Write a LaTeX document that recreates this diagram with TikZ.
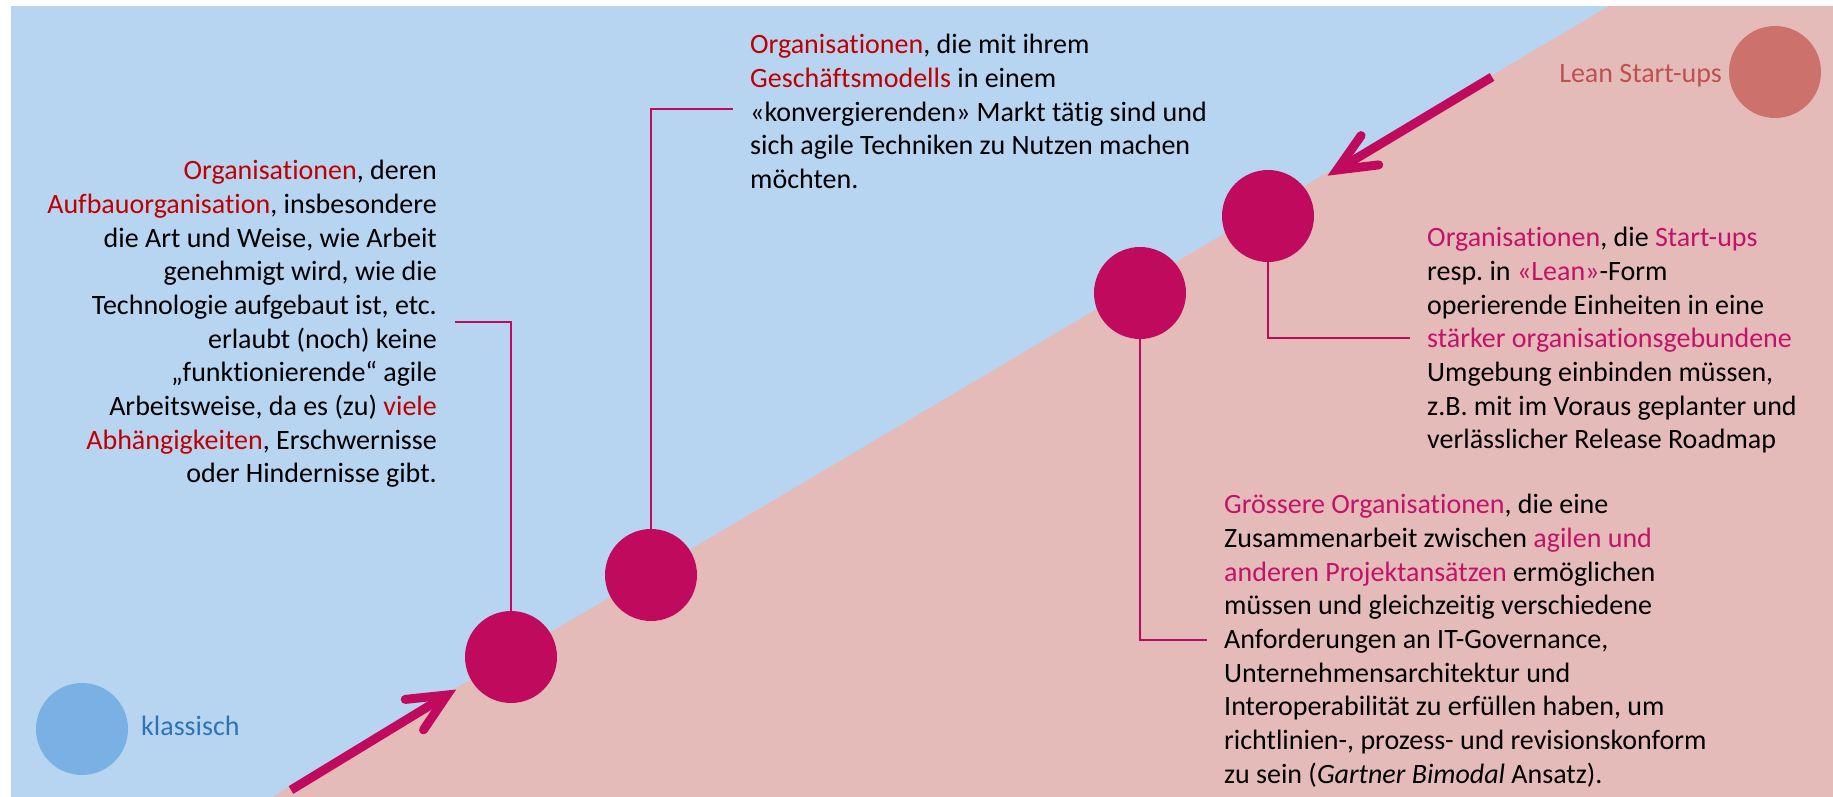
\documentclass[tikz,border=0pt]{standalone}
\usepackage{fontspec}
\setmainfont{Carlito}[Ligatures={NoCommon}]
\frenchspacing
\usetikzlibrary{calc}
\definecolor{bgblue}{RGB}{183,212,240}
\definecolor{bgpink}{RGB}{229,187,186}
\definecolor{mag}{RGB}{192,10,94}
\definecolor{magtext}{RGB}{196,18,104}
\definecolor{darkred}{RGB}{192,0,0}
\definecolor{lightblue}{RGB}{122,177,228}
\definecolor{blutext}{RGB}{46,116,181}
\definecolor{leancirc}{RGB}{204,113,108}
\definecolor{leantext}{RGB}{192,80,77}
\newcommand{\rd}[1]{\textcolor{darkred}{#1}}
\newcommand{\mg}[1]{\textcolor{magtext}{#1}}
\begin{document}
\begin{tikzpicture}[x=1pt,y=-1pt,
  dot/.style={circle,fill=mag,draw=none,minimum size=92pt,inner sep=0pt},
  legenddot/.style={circle,draw=none,minimum size=92pt,inner sep=0pt},
  txt/.style={font={\fontsize{28}{33.7}\selectfont},inner sep=0pt},
  leader/.style={draw=mag,line width=2pt},
  shaft/.style={draw=mag,line width=9pt,line cap=butt},
  barb/.style={draw=mag,line width=9pt,line cap=round,line join=miter,miter limit=10}
]
\useasboundingbox (0,0) rectangle (1833,797);
\fill[white] (0,0) rectangle (1833,797);
\fill[bgblue] (11,6) rectangle (1833,797);
\fill[bgpink] (272,797) -- (1609,6) -- (1833,6) -- (1833,797) -- cycle;

% legend
\node[legenddot,fill=lightblue] (klas) at (82,729) {};
\node[txt,anchor=west,text=blutext] (klastxt) at (141,726) {klassisch};
\node[legenddot,fill=leancirc] (lean) at (1775,72) {};
\node[txt,anchor=east,text=leantext] (leantxt) at (1722,76) {Lean Start-ups};

% dots
\node[dot] (c1) at (511,657) {};
\node[dot] (c2) at (651,575) {};
\node[dot] (c3) at (1140,293) {};
\node[dot] (c4) at (1268,216) {};

% texts
\node[txt,anchor=north east,align=right] (tA) at (437,160) {%
\rd{Organisationen}, deren\\
\rd{Aufbauorganisation}, insbesondere\\
die Art und Weise, wie Arbeit\\
genehmigt wird, wie die\\
Technologie aufgebaut ist, etc.\\
erlaubt (noch) keine\\
„funktionierende“ agile\\
Arbeitsweise, da es (zu) \rd{viele}\\
\rd{Abhängigkeiten}, Erschwernisse\\
oder Hindernisse gibt.};

\node[txt,anchor=north west,align=left] (tB) at (750,34) {%
\rd{Organisationen}, die mit ihrem\\
\rd{Geschäftsmodells} in einem\\
«konvergierenden» Markt tätig sind und\\
sich agile Techniken zu Nutzen machen\\
möchten.};

\node[txt,anchor=north west,align=left] (tC) at (1427,227) {%
\mg{Organisationen}, die \mg{Start-ups}\\
resp. in \mg{«Lean»}-Form\\
operierende Einheiten in eine\\
\mg{stärker organisationsgebundene}\\
Umgebung einbinden müssen,\\
z.B. mit im Voraus geplanter und\\
verlässlicher Release Roadmap};

\node[txt,anchor=north west,align=left] (tD) at (1224,494) {%
\mg{Grössere Organisationen}, die eine\\
Zusammenarbeit zwischen \mg{agilen und}\\
\mg{anderen Projektansätzen} ermöglichen\\
müssen und gleichzeitig verschiedene\\
Anforderungen an IT-Governance,\\
Unternehmensarchitektur und\\
Interoperabilität zu erfüllen haben, um\\
richtlinien-, prozess- und revisionskonform\\
zu sein (\textit{Gartner Bimodal} Ansatz).};

% leader lines
\coordinate (e1) at (455,322);
\coordinate (e2) at (733,109);
\coordinate (e3) at (1207,640);
\coordinate (e4) at (1410,338);
\draw[leader] (c1.north) |- (e1);
\draw[leader] (c2.north) |- (e2);
\draw[leader] (c3.south) |- (e3);
\draw[leader] (c4.south) |- (e4);

% arrows
\coordinate (t1) at (291,790);
\coordinate (v1) at (447,695);
\coordinate (t2) at (1492,77);
\coordinate (v2) at (1337,170);
\draw[shaft] (t1) -- (v1);
\draw[barb] ($(v1)+(174:42)$) -- (v1) -- ($(v1)+(124:42)$);
\draw[shaft] (t2) -- (v2);
\draw[barb] ($(v2)+(-55:42)$) -- (v2) -- ($(v2)+(-7:42)$);
\end{tikzpicture}
\end{document}
